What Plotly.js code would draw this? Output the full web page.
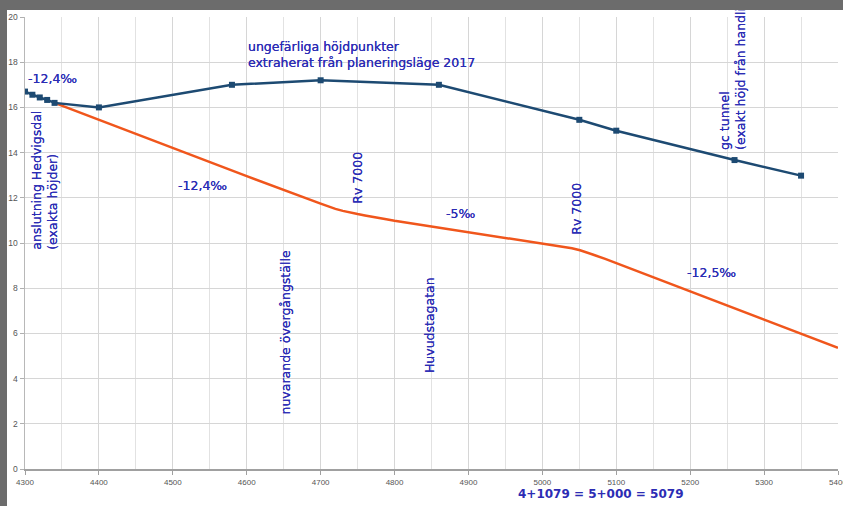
<!DOCTYPE html>
<html>
<head>
<meta charset="utf-8">
<script src="https://cdn.plot.ly/plotly-3.0.1.min.js"></script>
<style>
  html, body { margin: 0; padding: 0; background: #ffffff; }
  #wrap { position: relative; width: 843px; height: 506px; overflow: hidden; }
  #chart { position: absolute; left: 0; top: 0; width: 843px; height: 506px; }
  .frameTop { position: absolute; left: 0; top: 0; width: 843px; height: 10px; background: #6c6c6c; z-index: 5; }
  .frameLeft { position: absolute; left: 0; top: 0; width: 7px; height: 506px; background: #6c6c6c; z-index: 5; }
</style>
</head>
<body>
<div id="wrap">
  <div id="chart"></div>
  <div class="frameTop"></div>
  <div class="frameLeft"></div>
</div>
<script>
// Existing ground heights (approximate points, blue line)
const groundX = [4300, 4310, 4320, 4330, 4340, 4400, 4580, 4700, 4860, 5050, 5100, 5260, 5350];
const groundY = [16.7, 16.56, 16.44, 16.33, 16.2, 16.0, 17.0, 17.2, 17.0, 15.45, 14.97, 13.67, 12.98];

// Planned profile (orange line)
const profileX = [4340, 4400, 4500, 4600, 4700, 4710, 4720, 4730, 4740, 4750, 4760, 4770, 4785, 4800, 4900, 5000, 5020, 5030, 5040, 5051, 5060, 5070, 5085, 5100, 5200, 5300, 5400];
const profileY = [16.2, 15.45, 14.2, 12.96, 11.74, 11.62, 11.51, 11.42, 11.34, 11.28, 11.22, 11.17, 11.07, 10.98, 10.48, 9.98, 9.88, 9.83, 9.77, 9.68, 9.59, 9.47, 9.3, 9.11, 7.86, 6.61, 5.36];

// Text labels
const labelTexts = [
  "-12,4‰",
  "ungefärliga höjdpunkter<br>extraherat från planeringsläge 2017",
  "anslutning Hedvigsdal<br>(exakta höjder)",
  "-12,4‰",
  "nuvarande övergångställe",
  "Rv 7000",
  "-5‰",
  "Huvudstagatan",
  "Rv 7000",
  "-12,5‰",
  "gc tunnel<br>(exakt höjd från handling)"
];
const labelX = [4302, 4599, 4326, 4504, 4653, 4750, 4867, 4847, 5047, 5193, 5257];
const labelY = [17.3, 18.35, 9.6, 12.56, 2.32, 11.63, 11.31, 4.17, 10.28, 8.69, 14.02];
const labelAngle = [0, 0, -90, 0, -90, -90, 0, -90, -90, 0, -90];

const bottomText = "4+1079 = 5+000 = 5079";
const bottomX = 5079;

const blue = "#1d4a72";
const orange = "#f0561c";
const textBlue = "#2c2cb4";

const traces = [
  {
    x: profileX, y: profileY, type: "scatter", mode: "lines",
    line: { color: orange, width: 2.5 }, hoverinfo: "skip", cliponaxis: true
  },
  {
    x: groundX, y: groundY, type: "scatter", mode: "lines+markers",
    line: { color: blue, width: 2.5 },
    marker: { symbol: "square", size: 6, color: blue },
    hoverinfo: "skip"
  }
];

const annotations = labelTexts.map((t, i) => {
  const rot = labelAngle[i] !== 0;
  return {
    text: t, x: labelX[i], y: labelY[i], xref: "x", yref: "y",
    showarrow: false, textangle: labelAngle[i],
    xanchor: rot ? "center" : "left",
    yanchor: rot ? "bottom" : "middle",
    align: "left",
    font: { family: "DejaVu Sans", size: 12.5, color: textBlue, shadow: "0 0 0.5px " + textBlue }
  };
});
annotations.push({
  text: "<b>" + bottomText + "</b>", x: bottomX, y: -0.055, xref: "x", yref: "paper",
  showarrow: false, xanchor: "center", yanchor: "middle",
  font: { family: "DejaVu Sans", size: 12, color: textBlue }
});

const layout = {
  width: 843, height: 506,
  margin: { l: 25, r: 5, t: 17, b: 37 },
  paper_bgcolor: "#ffffff", plot_bgcolor: "#ffffff",
  showlegend: false,
  xaxis: {
    range: [4300, 5400], dtick: 100, tick0: 4300,
    showgrid: true, gridcolor: "#d6d6d6", gridwidth: 1,
    minor: { dtick: 50, showgrid: true, gridcolor: "#e2e2e2", gridwidth: 1 },
    showline: true, linecolor: "#a0a0a0", linewidth: 2,
    ticks: "outside", ticklen: 4, tickcolor: "#a0a0a0",
    ticklabeloverflow: "allow",
    tickfont: { family: "Liberation Sans", size: 8, color: "#555555" },
    zeroline: false, fixedrange: true
  },
  yaxis: {
    range: [0, 20], dtick: 2, tick0: 0,
    showgrid: true, gridcolor: "#d6d6d6", gridwidth: 1,
    showline: true, linecolor: "#b8b8b8", linewidth: 1.5,
    ticks: "outside", ticklen: 4, tickcolor: "#b0b0b0",
    tickfont: { family: "Liberation Sans", size: 8.5, color: "#555555" },
    zeroline: false, fixedrange: true
  },
  annotations: annotations
};

Plotly.newPlot("chart", traces, layout, { staticPlot: true, displayModeBar: false });
</script>
</body>
</html>
